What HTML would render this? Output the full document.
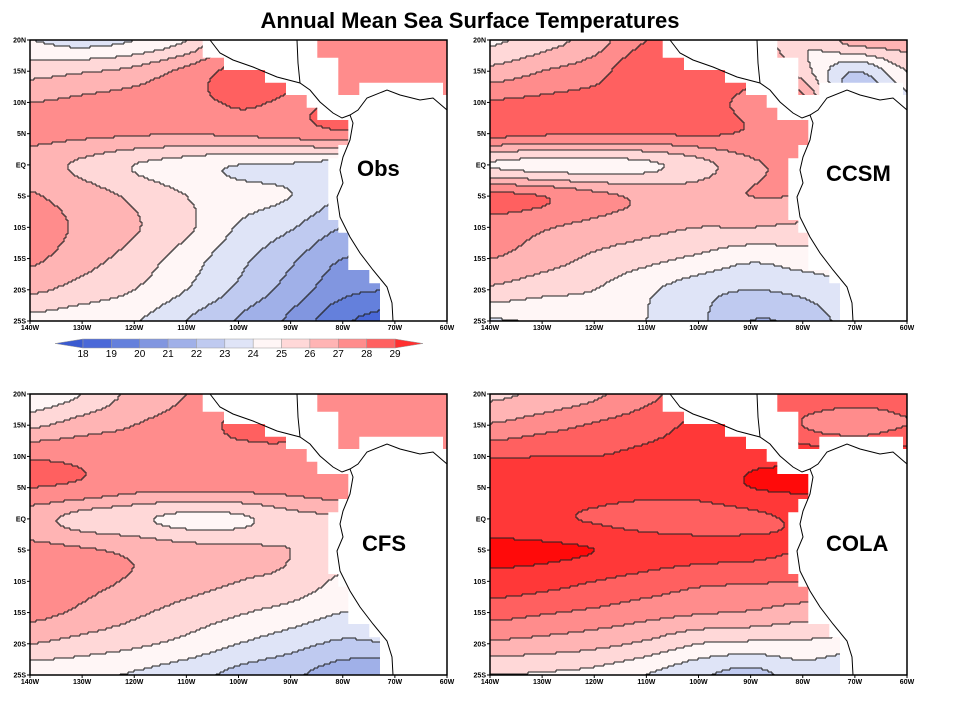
<!DOCTYPE html>
<html><head><meta charset="utf-8">
<style>
body{margin:0;background:#fff;font-family:"Liberation Sans",sans-serif;}
svg{display:block}
</style></head>
<body>
<svg id="chart" width="960" height="720" viewBox="0 0 960 720" xmlns="http://www.w3.org/2000/svg">
<text x="470" y="28" text-anchor="middle" font-family="Liberation Sans" font-weight="bold" font-size="22">Annual Mean Sea Surface Temperatures</text>
<g id="panels"></g>
<g id="colorbar"></g>
</svg>
<script>
// Grid: lon 140W..60W step 10 (columns), lat 20N..25S step 5 (rows)
const lonTicks = ["140W","130W","120W","110W","100W","90W","80W","70W","60W"];
const latTicks = ["20N","15N","10N","5N","EQ","5S","10S","15S","20S","25S"];
const panelNames = ["Obs","CCSM","CFS","COLA"];
const obsSST = [
 [24.0,23.6,24.0,25.0,27.2,27.0,27.5,27.5,27.5],
 [25.6,25.9,26.3,27.3,28.3,28.0,27.5,27.5,27.5],
 [27.0,27.2,27.4,27.7,28.1,27.9,28.0,27.5,27.5],
 [27.3,27.2,27.1,27.0,27.2,27.4,27.8,27.5,27.5],
 [26.5,25.8,25.0,24.5,24.0,23.9,23.5,23.5,23.5],
 [27.1,26.5,25.8,25.0,24.4,24.0,23.0,23.0,23.0],
 [27.5,26.8,26.1,25.2,23.9,23.1,22.0,22.0,22.0],
 [27.2,26.4,25.6,24.5,23.3,22.2,21.0,21.0,21.0],
 [26.2,25.6,25.0,24.0,22.8,21.6,20.3,20.0,20.0],
 [24.7,24.4,24.1,23.0,21.9,20.8,19.2,18.5,18.5]];
const ccsmSST = [
 [24.8,25.5,26.5,28.0,28.0,27.0,25.0,26.5,26.5],
 [26.3,27.0,27.6,28.8,28.2,28.0,25.5,23.0,25.0],
 [28.1,28.2,28.3,28.3,28.3,27.8,27.5,22.5,24.0],
 [28.3,28.1,28.0,28.0,28.1,27.9,27.5,27.5,27.5],
 [24.9,24.6,24.6,24.8,25.6,26.8,27.3,27.3,27.3],
 [28.3,28.0,27.3,26.8,26.6,27.0,27.0,27.0,27.0],
 [27.5,27.1,26.7,26.3,26.0,26.0,25.8,25.8,25.8],
 [27.0,26.5,25.8,25.3,24.8,24.2,24.5,24.5,24.5],
 [25.8,25.3,25.0,24.2,23.4,23.0,23.3,24.0,24.0],
 [23.9,24.1,24.3,24.0,23.2,22.0,22.3,23.5,23.5]];
const cfsSST = [
 [24.2,25.0,26.3,27.0,27.5,27.0,27.3,27.3,27.5],
 [25.8,26.5,27.0,27.4,28.2,28.0,27.3,27.2,27.0],
 [27.9,27.8,27.5,27.5,27.6,27.8,27.5,27.5,27.5],
 [28.0,27.8,27.3,27.2,27.3,27.4,27.7,27.5,27.5],
 [26.4,25.6,25.2,24.7,24.8,25.6,25.8,25.8,25.8],
 [27.3,27.1,26.8,26.4,26.2,26.0,25.5,25.5,25.5],
 [27.5,27.2,26.9,26.4,26.0,25.7,24.8,24.8,24.8],
 [27.3,26.8,26.2,25.6,25.1,24.6,24.0,24.0,24.0],
 [26.0,25.6,25.2,24.7,24.0,23.4,22.8,23.0,23.0],
 [24.3,24.2,23.9,23.4,22.7,22.2,21.4,21.0,21.0]];
const colaSST = [
 [25.8,26.2,26.8,27.7,28.5,28.0,28.7,28.5,28.5],
 [27.1,27.6,28.1,28.6,29.2,29.5,28.0,27.5,28.0],
 [28.9,29.0,29.0,29.2,29.3,29.8,29.7,29.5,29.5],
 [29.8,29.6,29.4,29.3,29.4,30.0,30.1,30.0,30.0],
 [29.4,29.2,28.9,28.6,28.5,28.7,29.2,29.2,29.2],
 [30.3,30.2,30.0,29.6,29.4,29.3,29.0,29.0,29.0],
 [29.6,29.4,29.0,28.6,28.2,28.1,28.0,28.0,28.0],
 [28.4,28.1,27.8,27.4,27.1,26.9,26.5,26.5,26.5],
 [26.8,26.6,26.3,25.8,25.0,24.8,24.8,24.5,24.5],
 [25.0,24.9,24.7,24.0,23.2,22.6,23.5,23.0,23.0]];
const allFields = [obsSST, ccsmSST, cfsSST, colaSST];
const levels = [18,19,20,21,22,23,24,25,26,27,28,29];
const levelLabels = ["18","19","20","21","22","23","24","25","26","27","28","29"];

const COLORS = ["#3a5ad0","#4a68d8","#6480dc","#8196e0","#a0b0e8","#bfcaf0","#dfe4f7","#fff6f6","#ffd8d8","#ffb4b4","#ff8c8c","#ff6060","#ff3838","#ff0a0a"];
function band(v){ let b=Math.floor(v)-17; if(b<0)b=0; if(b>13)b=13; return b; }

const PW=417, PH=281;
const panelPos=[[30,40],[490,40],[30,394],[490,394]];
const labelPos=[[357,176],[826,181],[362,551],[826,551]];
const NS="http://www.w3.org/2000/svg";
function mk(tag,attrs,parent){const e=document.createElementNS(NS,tag);for(const k in attrs)e.setAttribute(k,attrs[k]);if(parent)parent.appendChild(e);return e;}

const oceanMain=[[0,0],[172.7,0],[172.7,17.7],[194,17.7],[194,30],[235,30],[235,42.7],[256,42.7],[256,55],[276.7,55],[276.7,67.7],[287.3,67.7],[287.3,80],[318.3,80],[318.3,105],[308.3,105],[308.3,118.3],[298.3,118.3],[298.3,180],[308.3,180],[308.3,192.7],[318.3,192.7],[318.3,230],[339.3,230],[339.3,243.3],[350,243.3],[350,281],[0,281]];
const oceanCarib=[[287.3,0],[417,0],[417,55],[413,55],[413,42.7],[329.3,42.7],[329.3,55],[308.3,55],[308.3,17.7],[287.3,17.7]];
const coast1=[[180,0],[190,13],[203,20],[223,27],[247,37],[270,43],[280,50],[290,62],[303,73],[312,78],[320,75],[328,70],[337,58],[357,50],[370,55],[390,60],[403,58],[417,70]];
const coast2=[[320,75],[323,83],[320,100],[313,117],[310,130],[313,143],[307,157],[310,177],[320,197],[330,213],[343,230],[357,247],[362,263],[363,281]];
const coast3=[[267,0],[268,23],[270,43]];
const ptStr=a=>a.map(p=>p.join(",")).join(" ");

function xScale(lon){return (lon+140)/80*PW;}
function yScale(lat){return (20-lat)/45*PH;}
function cr(p0,p1,p2,p3,t){return 0.5*((2*p1)+(-p0+p2)*t+(2*p0-5*p1+4*p2-p3)*t*t+(-p0+3*p1-3*p2+p3)*t*t*t);}
function fieldAt(F,px,py){
  const lon=-140+px/PW*80, lat=20-py/PH*45;
  let fx=(lon+140)/10, fy=(20-lat)/5;
  fx=Math.max(0,Math.min(7.9999,fx)); fy=Math.max(0,Math.min(8.9999,fy));
  const i=Math.floor(fx), j=Math.floor(fy), tx=fx-i, ty=fy-j;
  const ci=n=>Math.max(0,Math.min(8,n)), rj=n=>Math.max(0,Math.min(9,n));
  const rows=[];
  for(let m=-1;m<=2;m++){
    const R=F[rj(j+m)];
    rows.push(cr(R[ci(i-1)],R[ci(i)],R[ci(i+1)],R[ci(i+2)],tx));
  }
  return cr(rows[0],rows[1],rows[2],rows[3],ty);
}

const panelsG=document.getElementById('panels');
allFields.forEach((F,k)=>{
  const [ox,oy]=panelPos[k];
  const g=mk('g',{transform:`translate(${ox},${oy})`},panelsG);
  
  
  const cp=mk('clipPath',{id:'oc'+k},g);
  mk('polygon',{points:ptStr(oceanMain)},cp);
  mk('polygon',{points:ptStr(oceanCarib)},cp);
  const fg=mk('g',{'clip-path':`url(#oc${k})`,'shape-rendering':'crispEdges'},g);
  
  
  const S=2, nx=Math.ceil(PW/S), ny=Math.ceil(PH/S);
  const B=[];
  for(let r=0;r<ny;r++){const row=[];for(let c=0;c<nx;c++){row.push(band(fieldAt(F,c*S+S/2,r*S+S/2)));}B.push(row);}
  for(let r=0;r<ny;r++){
    let c0=0;
    for(let c=1;c<=nx;c++){
      if(c===nx||B[r][c]!==B[r][c0]){
        const rc=mk('rect',{x:c0*S,y:r*S,width:(c-c0)*S,height:S,fill:COLORS[B[r][c0]]},fg);
        
        
        c0=c;
      }
    }
  }
  let d="";
  for(let r=0;r<ny;r++)for(let c=0;c<nx;c++){
    if(c+1<nx&&B[r][c]!==B[r][c+1])d+=`M${(c+1)*S} ${r*S}v${S}`;
    if(r+1<ny&&B[r][c]!==B[r+1][c])d+=`M${c*S} ${(r+1)*S}h${S}`;
  }
  const cl=mk('path',{d:d,stroke:'#222','stroke-width':1,fill:'none','shape-rendering':'crispEdges'},fg);
  
  
  [coast1,coast2,coast3].forEach(cs=>{
    const pl=mk('polyline',{points:ptStr(cs),fill:'none',stroke:'#000','stroke-width':1},g);
    
    
  });
  const fr=mk('rect',{x:0,y:0,width:PW,height:PH,fill:'none',stroke:'#000','stroke-width':1.5},g);
  
  
  lonTicks.forEach((t,i)=>{
    const x=xScale(-140+i*10);
    mk('line',{x1:x,y1:PH,x2:x,y2:PH+3,stroke:'#000'},g);
    const tx=mk('text',{x:x,y:PH+9,'text-anchor':'middle','font-size':7,'font-weight':'bold'},g);
    tx.textContent=t;
    
    
  });
  latTicks.forEach((t,i)=>{
    const y=yScale(20-i*5);
    mk('line',{x1:-3,y1:y,x2:0,y2:y,stroke:'#000'},g);
    const tx=mk('text',{x:-4,y:y+2.5,'text-anchor':'end','font-size':7,'font-weight':'bold'},g);
    tx.textContent=t;
    
    
  });
  const lb=mk('text',{x:labelPos[k][0],y:labelPos[k][1],'font-size':22,'font-weight':'bold'},document.getElementById('panels'));
  lb.textContent=panelNames[k];
  
  
});

// colorbar
const cb=document.getElementById('colorbar');
const cbX0=83, cbW=312/11, cbY=339, cbH=9;
mk('polygon',{points:`55,${cbY+cbH/2} ${cbX0},${cbY} ${cbX0},${cbY+cbH}`,fill:COLORS[0],stroke:'#999','stroke-width':0.5},cb);
for(let i=0;i<11;i++){
  const r=mk('rect',{x:cbX0+i*cbW,y:cbY,width:cbW,height:cbH,fill:COLORS[i+1],stroke:'#999','stroke-width':0.5},cb);
  
  
}
const xe=cbX0+11*cbW;
mk('polygon',{points:`${xe},${cbY} ${xe+28},${cbY+cbH/2} ${xe},${cbY+cbH}`,fill:'#ff3030',stroke:'#999','stroke-width':0.5},cb);
levels.forEach((lv,i)=>{
  const t=mk('text',{x:cbX0+i*cbW,y:cbY+cbH+9,'text-anchor':'middle','font-size':10},cb);
  t.textContent=levelLabels[i];
  
  
});
</script>
</body></html>
